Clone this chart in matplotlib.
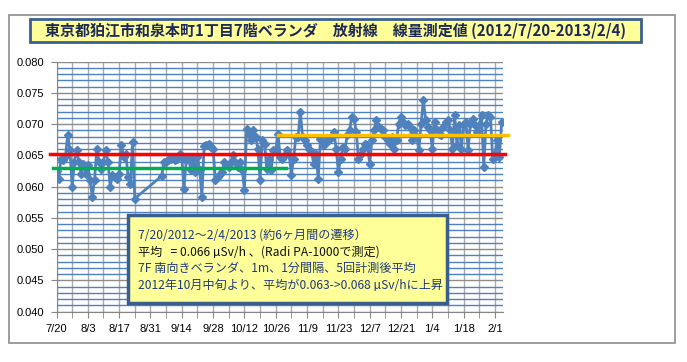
import pandas as pd
import matplotlib
matplotlib.use("Agg")
import matplotlib.pyplot as plt
from matplotlib.patches import Rectangle
from matplotlib.ticker import MultipleLocator, FixedLocator

plt.rcParams["font.family"] = ["Noto Sans CJK JP", "DejaVu Sans"]

TITLE = "東京都狛江市和泉本町1丁目7階ベランダ　放射線　線量測定値 (2012/7/20-2013/2/4)"
NOTE_LINES = [
    "7/20/2012～2/4/2013 (約6ヶ月間の遷移）",
    "平均   = 0.066 µSv/h 、(Radi PA-1000で測定)",
    "7F 南向きベランダ、1m、1分間隔、5回計測後平均",
    "2012年10月中旬より、平均が0.063->0.068 µSv/hに上昇",
]
NOTE_COLORS = ["#1F3A78", "#111111", "#1F3A78", "#1F3A78"]

# daily readings, with a gap from 8/25 to 9/4
MEASURE_DATES = pd.date_range("2012-07-20", "2012-08-24").append(
    pd.date_range("2012-09-05", "2013-02-04"))
DOSE = [
    0.0625, 0.0612, 0.0645, 0.0643, 0.0648, 0.0683, 0.0659, 0.0600, 0.0640, 0.0659,
    0.0640, 0.0621, 0.0637, 0.0621, 0.0635, 0.0611, 0.0584, 0.0611, 0.0660, 0.0640,
    0.0629, 0.0640, 0.0659, 0.0640, 0.0600, 0.0619, 0.0616, 0.0613, 0.0621, 0.0667,
    0.0648, 0.0653, 0.0616, 0.0605, 0.0672, 0.0581,
    0.0617, 0.0640, 0.0640, 0.0643, 0.0645, 0.0648, 0.0643, 0.0645, 0.0653, 0.0648,
    0.0597, 0.0643, 0.0648, 0.0627, 0.0645, 0.0624, 0.0648, 0.0627, 0.0584, 0.0665,
    0.0667, 0.0669, 0.0664, 0.0661, 0.0611, 0.0615, 0.0621, 0.0624, 0.0640, 0.0635,
    0.0632, 0.0640, 0.0651, 0.0640, 0.0632, 0.0640, 0.0627, 0.0595, 0.0693, 0.0685,
    0.0675, 0.0691, 0.0680, 0.0661, 0.0611, 0.0675, 0.0669, 0.0629, 0.0645, 0.0627,
    0.0659, 0.0659, 0.0685, 0.0648, 0.0645, 0.0651, 0.0659, 0.0651, 0.0619, 0.0645,
    0.0680, 0.0680, 0.0720, 0.0680, 0.0675, 0.0667, 0.0661, 0.0656, 0.0637, 0.0653,
    0.0613, 0.0677, 0.0667, 0.0669, 0.0675, 0.0675, 0.0680, 0.0688, 0.0661, 0.0624,
    0.0645, 0.0664, 0.0661, 0.0683, 0.0691, 0.0712, 0.0709, 0.0688, 0.0645, 0.0653,
    0.0661, 0.0669, 0.0667, 0.0637, 0.0675, 0.0691, 0.0707, 0.0696, 0.0693, 0.0691,
    0.0680, 0.0675, 0.0669, 0.0680, 0.0661, 0.0675, 0.0701, 0.0712, 0.0704, 0.0699,
    0.0701, 0.0696, 0.0675, 0.0691, 0.0680, 0.0659, 0.0701, 0.0739, 0.0707, 0.0696,
    0.0690, 0.0661, 0.0704, 0.0691, 0.0685, 0.0683, 0.0696, 0.0704, 0.0707, 0.0691,
    0.0661, 0.0715, 0.0667, 0.0699, 0.0661, 0.0701, 0.0704, 0.0659, 0.0701, 0.0709,
    0.0699, 0.0688, 0.0699, 0.0715, 0.0632, 0.0701, 0.0715, 0.0712, 0.0645, 0.0653,
    0.0675, 0.0648, 0.0704,
]

# average levels: whole period, before and after mid-October
AVG_ALL = 0.0652
AVG_EARLY = 0.0630
AVG_LATE = 0.0682

TICK_DATES = pd.date_range("2012-07-20", periods=15, freq="14D")
TICK_LABELS = ["7/20", "8/3", "8/17", "8/31", "9/14", "9/28", "10/12", "10/26",
               "11/9", "11/23", "12/7", "12/21", "1/4", "1/18", "2/1"]

W, H = 687, 362
fig = plt.figure(figsize=(W / 100, H / 100), dpi=100)
fig.patch.set_facecolor("white")


def px_box(x0, y0, x1, y1):
    return (x0 / W, 1 - y1 / H, (x1 - x0) / W, (y1 - y0) / H)


# outer chart frame
x0, y0, w, h = px_box(9, 15, 675, 343)
fig.patches.append(Rectangle((x0, y0), w, h, transform=fig.transFigure, fill=False,
                             edgecolor="#8C8C8C", lw=1.2))

ax = fig.add_axes(px_box(56.5, 61.7, 503, 311.7))
start = pd.Timestamp("2012-07-20")
ax.set_xlim(start, start + pd.Timedelta(days=199.6))
ax.set_ylim(0.040, 0.080)

ax.yaxis.set_major_locator(MultipleLocator(0.005))
ax.yaxis.set_minor_locator(MultipleLocator(0.001))
ax.yaxis.set_major_formatter(plt.FuncFormatter(lambda v, p: f"{v:.3f}"))
ax.xaxis.set_major_locator(FixedLocator(matplotlib.dates.date2num(TICK_DATES)))
ax.xaxis.set_minor_locator(FixedLocator(matplotlib.dates.date2num(
    TICK_DATES + pd.Timedelta(days=7))))
ax.set_xticklabels(TICK_LABELS)

ax.grid(which="minor", axis="y", color="#4F81BD", lw=1.0)
ax.grid(which="major", axis="y", color="#8C8C8C", lw=1.0)
ax.grid(which="both", axis="x", color="#ABABAB", lw=1.0)
ax.set_axisbelow(True)

for side in ("top", "right"):
    ax.spines[side].set_visible(False)
for side in ("left", "bottom"):
    ax.spines[side].set_color("#868686")
ax.tick_params(which="major", axis="both", direction="out", length=4,
               color="#868686", labelsize=8, pad=5)
ax.tick_params(which="minor", axis="x", direction="out", length=4, color="#868686")
ax.tick_params(which="minor", axis="y", length=0)
for lab in ax.get_xticklabels() + ax.get_yticklabels():
    lab.set_family(["Liberation Sans", "DejaVu Sans"])

ax.plot(MEASURE_DATES, DOSE, color="#4F81BD", lw=2, marker="D", ms=4.2,
        mec="#4F81BD", mfc="#4F81BD", zorder=3)

ax.plot([start - pd.Timedelta(days=3), start + pd.Timedelta(days=200.3)],
        [AVG_ALL, AVG_ALL], color="#FF0000", lw=2.5, zorder=5, clip_on=False)
ax.plot([start - pd.Timedelta(days=1.5), start + pd.Timedelta(days=102.8)],
        [AVG_EARLY, AVG_EARLY], color="#00B050", lw=2.5, zorder=5, clip_on=False)
ax.plot([start + pd.Timedelta(days=98.9), start + pd.Timedelta(days=202)],
        [AVG_LATE, AVG_LATE], color="#FFC000", lw=2.5, zorder=5, clip_on=False)

# title box
x0, y0, w, h = px_box(30, 19, 641, 42)
fig.patches.append(Rectangle((x0, y0), w, h, transform=fig.transFigure,
                             facecolor="#FFFF99", edgecolor="#3A5F8F", lw=2))
fig.text((30 + 641) / 2 / W, 1 - 31 / H, TITLE, ha="center", va="center",
         fontsize=10.8, fontweight="bold", color="#1C2A58")

# note box
x0, y0, w, h = px_box(128, 215, 447, 303)
fig.patches.append(Rectangle((x0, y0), w, h, transform=fig.transFigure,
                             facecolor="#FFFF99", edgecolor="#3A5F8F", lw=2.5,
                             zorder=6))
for i, (line, col) in enumerate(zip(NOTE_LINES, NOTE_COLORS)):
    fig.text(138 / W, 1 - (235 + i * 16.8) / H, line, ha="left", va="center",
             fontsize=8.7, color=col, zorder=7)

fig.savefig("out.png", dpi=100)
